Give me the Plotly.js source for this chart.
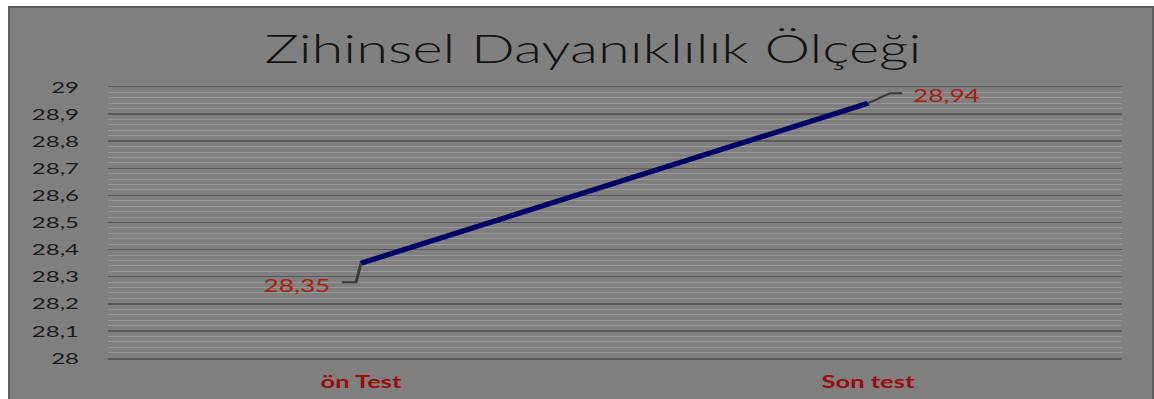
<!DOCTYPE html>
<html>
<head>
<meta charset="utf-8">
<script src="https://cdn.plot.ly/plotly-3.0.1.min.js"></script>
<style>
  html, body { margin: 0; padding: 0; background: #ffffff; overflow: hidden; }
  #frame { position: absolute; left: 8px; top: 6px; width: 1142px; height: 394px;
           border: 2px solid #5e5e5e; border-bottom: none; background: #808080; overflow: hidden; }
  #chart { position: absolute; left: 0; top: 0; width: 762px; height: 394px;
           transform: scaleX(1.5); transform-origin: 0 0; }
</style>
</head>
<body>
<div id="frame"><div id="chart"></div></div>
<script>
const chartTitle = "Zihinsel Dayanıklılık Ölçeği";
const categories = ["ön Test", "Son test"];
const values = [28.35, 28.94];
const yTickVals = [28, 28.1, 28.2, 28.3, 28.4, 28.5, 28.6, 28.7, 28.8, 28.9, 29];
const yTickText = ["28", "28,1", "28,2", "28,3", "28,4", "28,5", "28,6", "28,7", "28,8", "28,9", "29"];

const fmt = v => String(v).replace(".", ",");
const font = "Lato, 'Open Sans', sans-serif";

const trace = {
  type: "scatter", mode: "lines",
  x: categories, y: values,
  line: { color: "#000066", width: 5 },
  hoverinfo: "skip", showlegend: false
};

// label placement (pixel offsets before the 1.5x horizontal stretch) and leader paths
const labelCfg = [
  { xshift: -18, yshift: -22, xanchor: "right", path: "M0,0 L-3.3,-19 L-12.7,-19" },
  { xshift: 28, yshift: 8, xanchor: "left", path: "M0,0 L14.7,10 L22.7,10" }
];

const annotations = values.map((v, i) => ({
  x: categories[i], y: v, xref: "x", yref: "y",
  text: fmt(v), showarrow: false,
  xanchor: labelCfg[i].xanchor, yanchor: "middle",
  xshift: labelCfg[i].xshift, yshift: labelCfg[i].yshift,
  font: { family: font, size: 17.5, color: "#a8200c" }
}));

const shapes = values.map((v, i) => ({
  type: "path", xref: "x", yref: "y",
  xsizemode: "pixel", ysizemode: "pixel",
  xanchor: categories[i], yanchor: v,
  path: labelCfg[i].path,
  line: { color: "#3a3a3a", width: 2 }
}));

const layout = {
  width: 762, height: 394,
  margin: { l: 64.7, r: 21.3, t: 79, b: 44 },
  paper_bgcolor: "#808080", plot_bgcolor: "#808080",
  separators: ",.",
  title: {
    text: chartTitle, x: 0.51, xanchor: "center",
    yref: "container", y: 1 - 42 / 394, yanchor: "middle",
    font: { family: font, size: 38.5, weight: 300, color: "#141414" }
  },
  xaxis: {
    type: "category", range: [-0.5, 1.5],
    showgrid: false, zeroline: false,
    showline: true, mirror: true, linecolor: "#5a5a5a", linewidth: 1.5,
    ticks: "", ticklabelstandoff: 8,
    tickfont: { family: font, size: 17, weight: 700, color: "#9c0a0a" }
  },
  yaxis: {
    range: [28, 29], tickvals: yTickVals, ticktext: yTickText,
    showgrid: true, gridcolor: "#5a5a5a", gridwidth: 1.5,
    zeroline: false, showline: false, ticks: "", ticklabelstandoff: 18,
    tickfont: { family: font, size: 16, color: "#1a1a1a" },
    minor: { dtick: 0.02, showgrid: true, gridcolor: "#979797", gridwidth: 1 }
  },
  annotations: annotations,
  shapes: shapes
};

Plotly.newPlot("chart", [trace], layout, { displayModeBar: false, staticPlot: true });
</script>
</body>
</html>
